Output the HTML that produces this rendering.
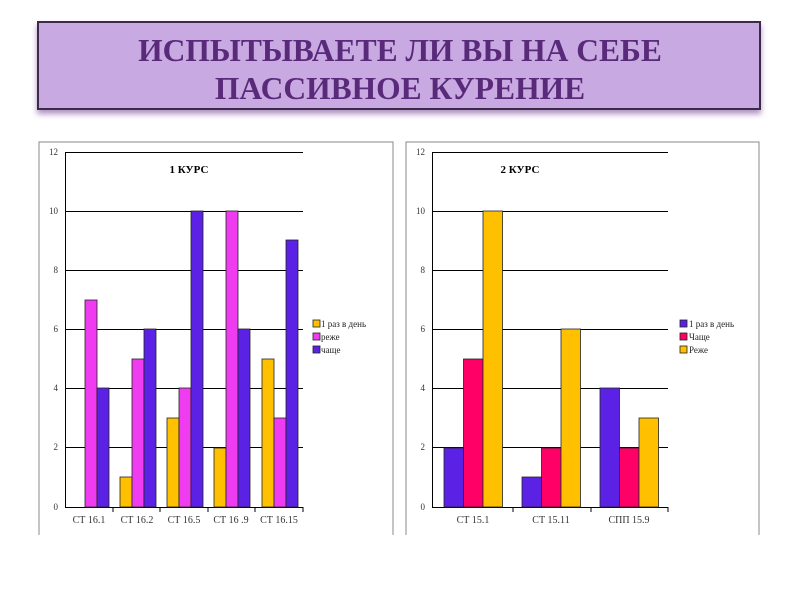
<!DOCTYPE html>
<html><head><meta charset="utf-8"><style>
body{margin:0;background:#fff;width:800px;height:600px;overflow:hidden}
svg{display:block}
</style></head><body>
<svg width="800" height="600" xmlns="http://www.w3.org/2000/svg" font-family="Liberation Serif, serif">
<defs><filter id="sh" x="-5%" y="-20%" width="110%" height="150%"><feDropShadow dx="0" dy="4" stdDeviation="3" flood-color="#7a4a9a" flood-opacity="0.6"/></filter></defs>
<rect x="38" y="22" width="722" height="87" fill="#c9a9e2" stroke="#3a2a4a" stroke-width="2" filter="url(#sh)"/>
<text x="400" y="61" text-anchor="middle" font-size="31.5" font-weight="bold" fill="#5a2a7a">ИСПЫТЫВАЕТЕ ЛИ ВЫ НА СЕБЕ</text>
<text x="400" y="99" text-anchor="middle" font-size="31.5" font-weight="bold" fill="#5a2a7a">ПАССИВНОЕ КУРЕНИЕ</text>

<path d="M39 535 V142 H393 V535" fill="none" stroke="#888" stroke-width="1"/>
<g stroke="#000" stroke-width="1">
<line x1="65" y1="152.5" x2="303" y2="152.5"/><line x1="65" y1="211.5" x2="303" y2="211.5"/><line x1="65" y1="270.5" x2="303" y2="270.5"/>
<line x1="65" y1="329.5" x2="303" y2="329.5"/><line x1="65" y1="388.5" x2="303" y2="388.5"/><line x1="65" y1="447.5" x2="303" y2="447.5"/>
<line x1="65" y1="507.5" x2="303" y2="507.5"/><line x1="65.5" y1="152" x2="65.5" y2="507"/>
<line x1="113" y1="507" x2="113" y2="512"/><line x1="160" y1="507" x2="160" y2="512"/><line x1="208" y1="507" x2="208" y2="512"/><line x1="255" y1="507" x2="255" y2="512"/><line x1="303" y1="507" x2="303" y2="512"/>
</g>
<g font-size="9" fill="#333" text-anchor="end">
<text x="58" y="155">12</text><text x="58" y="214">10</text><text x="58" y="273">8</text><text x="58" y="332">6</text><text x="58" y="391">4</text><text x="58" y="450">2</text><text x="58" y="510">0</text>
</g>
<g stroke="#222" stroke-width="0.8">
<rect x="85" y="300" width="12" height="207" fill="#f03cf0"/><rect x="97" y="388" width="12" height="119" fill="#5b22e6"/>
<rect x="120" y="477" width="12" height="30" fill="#ffc000"/><rect x="132" y="359" width="12" height="148" fill="#f03cf0"/><rect x="144" y="329" width="12" height="178" fill="#5b22e6"/>
<rect x="167" y="418" width="12" height="89" fill="#ffc000"/><rect x="179" y="388" width="12" height="119" fill="#f03cf0"/><rect x="191" y="211" width="12" height="296" fill="#5b22e6"/>
<rect x="214" y="448" width="12" height="59" fill="#ffc000"/><rect x="226" y="211" width="12" height="296" fill="#f03cf0"/><rect x="238" y="329" width="12" height="178" fill="#5b22e6"/>
<rect x="262" y="359" width="12" height="148" fill="#ffc000"/><rect x="274" y="418" width="12" height="89" fill="#f03cf0"/><rect x="286" y="240" width="12" height="267" fill="#5b22e6"/>
</g>
<g font-size="10" fill="#333" text-anchor="middle">
<text x="89" y="523">СТ 16.1</text><text x="137" y="523">СТ 16.2</text><text x="184" y="523">СТ 16.5</text><text x="231" y="523">СТ 16 .9</text><text x="279" y="523">СТ 16.15</text>
</g>
<text x="189" y="173" text-anchor="middle" font-size="11" font-weight="bold">1 КУРС</text>
<g stroke="#222" stroke-width="0.8"><rect x="313" y="320" width="7" height="7" fill="#ffc000"/><rect x="313" y="333" width="7" height="7" fill="#f03cf0"/><rect x="313" y="346" width="7" height="7" fill="#5b22e6"/></g>
<g font-size="9" fill="#222"><text x="321" y="327">1 раз в день</text><text x="321" y="340">реже</text><text x="321" y="353">чаще</text></g>

<path d="M406 535 V142 H759 V535" fill="none" stroke="#888" stroke-width="1"/>
<g stroke="#000" stroke-width="1">
<line x1="432" y1="152.5" x2="668" y2="152.5"/><line x1="432" y1="211.5" x2="668" y2="211.5"/><line x1="432" y1="270.5" x2="668" y2="270.5"/>
<line x1="432" y1="329.5" x2="668" y2="329.5"/><line x1="432" y1="388.5" x2="668" y2="388.5"/><line x1="432" y1="447.5" x2="668" y2="447.5"/>
<line x1="432" y1="507.5" x2="668" y2="507.5"/><line x1="432.5" y1="152" x2="432.5" y2="507"/>
<line x1="513" y1="507" x2="513" y2="512"/><line x1="591" y1="507" x2="591" y2="512"/><line x1="668" y1="507" x2="668" y2="512"/>
</g>
<g font-size="9" fill="#333" text-anchor="end">
<text x="425" y="155">12</text><text x="425" y="214">10</text><text x="425" y="273">8</text><text x="425" y="332">6</text><text x="425" y="391">4</text><text x="425" y="450">2</text><text x="425" y="510">0</text>
</g>
<g stroke="#222" stroke-width="0.8">
<rect x="444" y="448" width="19.5" height="59" fill="#5b22e6"/><rect x="463.5" y="359" width="19.5" height="148" fill="#ff0066"/><rect x="483" y="211" width="19.5" height="296" fill="#ffc000"/>
<rect x="522" y="477" width="19.5" height="30" fill="#5b22e6"/><rect x="541.5" y="448" width="19.5" height="59" fill="#ff0066"/><rect x="561" y="329" width="19.5" height="178" fill="#ffc000"/>
<rect x="600" y="388" width="19.5" height="119" fill="#5b22e6"/><rect x="619.5" y="448" width="19.5" height="59" fill="#ff0066"/><rect x="639" y="418" width="19.5" height="89" fill="#ffc000"/>
</g>
<g font-size="10" fill="#333" text-anchor="middle">
<text x="473" y="523">СТ 15.1</text><text x="551" y="523">СТ 15.11</text><text x="629" y="523">СПП 15.9</text>
</g>
<text x="520" y="173" text-anchor="middle" font-size="11" font-weight="bold">2 КУРС</text>
<g stroke="#222" stroke-width="0.8"><rect x="680" y="320" width="7" height="7" fill="#5b22e6"/><rect x="680" y="333" width="7" height="7" fill="#ff0066"/><rect x="680" y="346" width="7" height="7" fill="#ffc000"/></g>
<g font-size="9" fill="#222"><text x="689" y="327">1 раз в день</text><text x="689" y="340">Чаще</text><text x="689" y="353">Реже</text></g>
</svg>
</body></html>
